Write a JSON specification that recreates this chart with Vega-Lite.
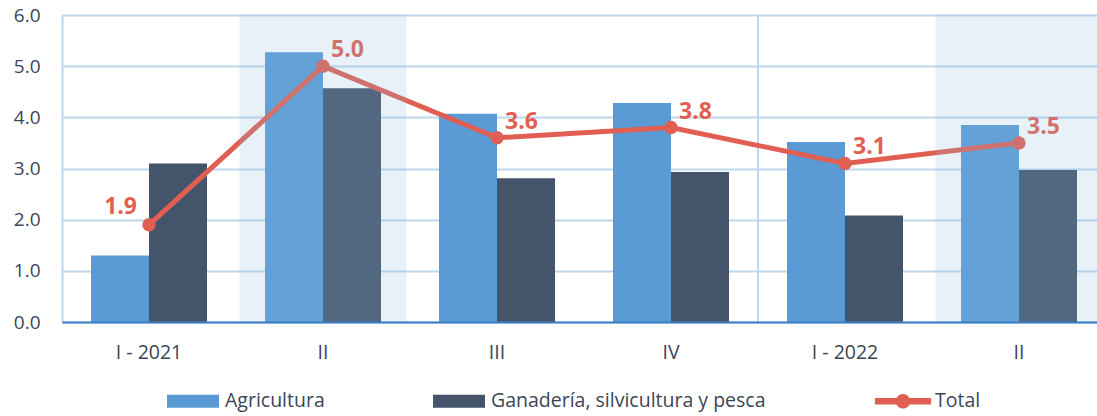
{
  "$schema": "https://vega.github.io/schema/vega-lite/v6.json",
  "width": 1044,
  "height": 307,
  "autosize": {"type": "none"},
  "padding": {"left": 62, "top": 15, "right": 0, "bottom": 94},
  "background": "white",
  "config": {"font": "Open Sans", "view": {"stroke": null}},
  "data": {
    "values": [
      {"q": "I - 2021", "serie": "Agricultura", "valor": 1.3},
      {"q": "I - 2021", "serie": "Ganadería, silvicultura y pesca", "valor": 3.1},
      {"q": "I - 2021", "serie": "Total", "valor": 1.9},
      {"q": "II - 2021", "serie": "Agricultura", "valor": 5.27},
      {"q": "II - 2021", "serie": "Ganadería, silvicultura y pesca", "valor": 4.57},
      {"q": "II - 2021", "serie": "Total", "valor": 5.0},
      {"q": "III - 2021", "serie": "Agricultura", "valor": 4.07},
      {"q": "III - 2021", "serie": "Ganadería, silvicultura y pesca", "valor": 2.81},
      {"q": "III - 2021", "serie": "Total", "valor": 3.6},
      {"q": "IV - 2021", "serie": "Agricultura", "valor": 4.28},
      {"q": "IV - 2021", "serie": "Ganadería, silvicultura y pesca", "valor": 2.93},
      {"q": "IV - 2021", "serie": "Total", "valor": 3.8},
      {"q": "I - 2022", "serie": "Agricultura", "valor": 3.52},
      {"q": "I - 2022", "serie": "Ganadería, silvicultura y pesca", "valor": 2.08},
      {"q": "I - 2022", "serie": "Total", "valor": 3.1},
      {"q": "II - 2022", "serie": "Agricultura", "valor": 3.85},
      {"q": "II - 2022", "serie": "Ganadería, silvicultura y pesca", "valor": 2.97},
      {"q": "II - 2022", "serie": "Total", "valor": 3.5}
    ]
  },
  "encoding": {
    "x": {
      "field": "q",
      "type": "nominal",
      "sort": ["I - 2021", "II - 2021", "III - 2021", "IV - 2021", "I - 2022", "II - 2022"],
      "scale": {"paddingInner": 0, "paddingOuter": 0},
      "axis": {
        "title": null,
        "labelAngle": 0,
        "labelExpr": "datum.value == 'I - 2021' || datum.value == 'I - 2022' ? datum.value : split(datum.value, ' - ')[0]",
        "labelFontSize": 19.5,
        "labelColor": "#3C4556",
        "labelPadding": 21,
        "ticks": false,
        "domainColor": "#3B7DC4",
        "domainWidth": 2,
        "zindex": 1
      }
    }
  },
  "layer": [
    {
      "transform": [{"filter": "datum.serie == 'Total' && datum.q == 'I - 2022'"}],
      "mark": {"type": "rule", "color": "#BDD7EE", "strokeWidth": 2},
      "encoding": {
        "x": {"field": "q", "type": "nominal", "bandPosition": 0, "sort": ["I - 2021", "II - 2021", "III - 2021", "IV - 2021", "I - 2022", "II - 2022"]}
      }
    },
    {
      "transform": [{"filter": "datum.serie != 'Total'"}],
      "mark": {"type": "bar"},
      "encoding": {
        "xOffset": {"field": "serie", "type": "nominal", "scale": {"paddingInner": 0, "paddingOuter": 0.5}},
        "y": {
          "field": "valor",
          "type": "quantitative",
          "scale": {"domain": [0, 6], "nice": false},
          "axis": {
            "title": null,
            "values": [0, 1, 2, 3, 4, 5, 6],
            "format": ".1f",
            "labelFontSize": 19,
            "labelColor": "#3C4556",
            "labelPadding": 22,
            "ticks": false,
            "domainColor": "#BDD7EE",
            "domainWidth": 2,
            "gridColor": "#BDD7EE",
            "gridWidth": 2
          }
        },
        "color": {
          "field": "serie",
          "type": "nominal",
          "scale": {
            "domain": ["Agricultura", "Ganadería, silvicultura y pesca", "Total"],
            "range": ["#5B9BD5", "#44546A", "#E15F52"]
          },
          "legend": {
            "title": null,
            "orient": "none",
            "legendX": 105,
            "legendY": 360,
            "direction": "horizontal",
            "labelFontSize": 19.5,
            "labelColor": "#3C4556",
            "labelOffset": 6,
            "labelLimit": 0,
            "columnPadding": 108,
            "symbolSize": 2704,
            "symbolStrokeWidth": 0,
            "encode": {
              "symbols": {
                "update": {
                  "shape": {"signal": "datum.label == 'Total' ? 'M-1.08,-0.125H1.08V0.125H-1.08Z M-0.28,0A0.28,0.28 0 1,1 0.28,0A0.28,0.28 0 1,1 -0.28,0Z' : 'M-1,-0.25H1V0.25H-1Z'"},
                  "fill": {"scale": "color", "field": "value"},
                  "fillOpacity": {"value": 1},
                  "strokeWidth": {"value": 0}
                }
              }
            }
          }
        }
      }
    },
    {
      "transform": [{"filter": "datum.serie == 'Total'"}],
      "mark": {"type": "line", "strokeWidth": 5},
      "encoding": {
        "y": {"field": "valor", "type": "quantitative"},
        "color": {"field": "serie", "type": "nominal"}
      }
    },
    {
      "transform": [{"filter": "datum.serie == 'Total'"}],
      "mark": {"type": "point", "filled": true, "size": 180, "opacity": 1},
      "encoding": {
        "y": {"field": "valor", "type": "quantitative"},
        "color": {"field": "serie", "type": "nominal"}
      }
    },
    {
      "transform": [{"filter": "datum.serie == 'Total' && datum.q != 'I - 2021'"}],
      "mark": {"type": "text", "align": "left", "baseline": "alphabetic", "dx": 8, "dy": -9, "fontSize": 23, "fontWeight": "bold", "color": "#E15F52"},
      "encoding": {
        "y": {"field": "valor", "type": "quantitative"},
        "text": {"field": "valor", "type": "quantitative", "format": ".1f"}
      }
    },
    {
      "transform": [{"filter": "datum.serie == 'Total' && datum.q == 'I - 2021'"}],
      "mark": {"type": "text", "align": "right", "baseline": "alphabetic", "dx": -12, "dy": -11, "fontSize": 23, "fontWeight": "bold", "color": "#E15F52"},
      "encoding": {
        "y": {"field": "valor", "type": "quantitative"},
        "text": {"field": "valor", "type": "quantitative", "format": ".1f"}
      }
    },
    {
      "transform": [{"filter": "datum.serie == 'Total' && (datum.q == 'II - 2021' || datum.q == 'II - 2022')"}],
      "mark": {"type": "bar", "color": "#8CB8DC", "opacity": 0.2, "width": {"band": 0.96}},
      "encoding": {
        "y": {"datum": 6, "type": "quantitative"},
        "y2": {"datum": 0}
      }
    }
  ]
}
